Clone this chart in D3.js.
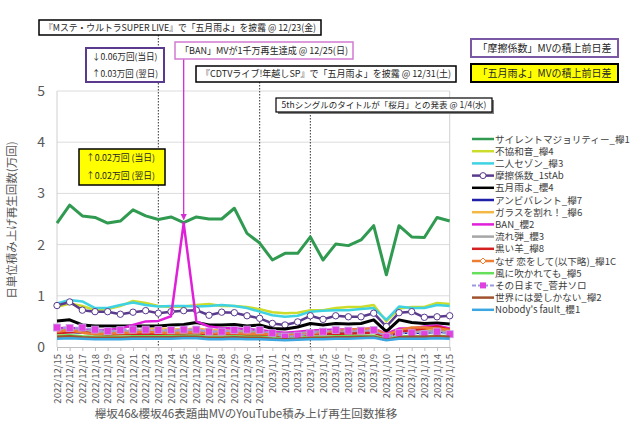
<!DOCTYPE html>
<html>
<head>
<meta charset="utf-8">
<script src="https://cdn.jsdelivr.net/npm/d3@7"></script>
<style>
  body { margin: 0; background: #fff; }
  text { font-family: "Noto Sans CJK JP", "Noto Sans", sans-serif; }
</style>
</head>
<body>
<script>
// 日付 (カテゴリ)
var dates = ["2022/12/15","2022/12/16","2022/12/17","2022/12/18","2022/12/19","2022/12/20","2022/12/21","2022/12/22",
  "2022/12/23","2022/12/24","2022/12/25","2022/12/26","2022/12/27","2022/12/28","2022/12/29","2022/12/30",
  "2022/12/31","2023/1/1","2023/1/2","2023/1/3","2023/1/4","2023/1/5","2023/1/6","2023/1/7",
  "2023/1/8","2023/1/9","2023/1/10","2023/1/11","2023/1/12","2023/1/13","2023/1/14","2023/1/15"];

var yTicks = [0, 1, 2, 3, 4, 5];

// 各曲の日単位積み上げ再生回数 (万回)
var silentMajority = [2.42,2.77,2.56,2.53,2.42,2.46,2.68,2.56,2.49,2.54,2.43,2.54,2.50,2.50,2.71,2.22,2.03,1.70,1.83,1.83,2.15,1.70,2.01,1.98,2.09,2.37,1.41,2.37,2.15,2.14,2.53,2.46];
var fukyowaon = [0.78,0.85,0.80,0.72,0.74,0.80,0.90,0.86,0.80,0.78,0.79,0.82,0.84,0.80,0.80,0.78,0.74,0.68,0.66,0.67,0.72,0.72,0.76,0.78,0.78,0.82,0.50,0.75,0.78,0.78,0.86,0.84];
var futariSaison = [0.85,0.92,0.89,0.76,0.76,0.82,0.87,0.82,0.79,0.80,0.80,0.79,0.80,0.82,0.80,0.76,0.69,0.62,0.59,0.61,0.69,0.71,0.72,0.72,0.74,0.76,0.53,0.79,0.76,0.76,0.82,0.80];
var masatsuKeisu = [0.81,0.88,0.72,0.69,0.69,0.64,0.68,0.71,0.66,0.69,0.71,0.72,0.62,0.68,0.67,0.61,0.56,0.46,0.43,0.49,0.61,0.54,0.61,0.59,0.59,0.66,0.40,0.67,0.69,0.58,0.59,0.61];
var samidareyo = [0.51,0.53,0.43,0.41,0.41,0.41,0.41,0.41,0.41,0.43,0.44,0.48,0.43,0.43,0.44,0.41,0.43,0.36,0.35,0.39,0.46,0.43,0.46,0.45,0.46,0.53,0.30,0.53,0.48,0.46,0.47,0.45];
var ambivalent = [0.29,0.30,0.28,0.27,0.27,0.27,0.28,0.28,0.28,0.28,0.29,0.29,0.27,0.27,0.28,0.27,0.27,0.24,0.23,0.24,0.27,0.27,0.28,0.28,0.28,0.29,0.20,0.28,0.28,0.28,0.30,0.29];
var garasu = [0.33,0.36,0.30,0.28,0.28,0.30,0.32,0.34,0.36,0.35,0.34,0.36,0.33,0.32,0.32,0.31,0.30,0.27,0.26,0.27,0.30,0.30,0.32,0.32,0.33,0.33,0.23,0.32,0.33,0.33,0.35,0.34];
var ban = [0.36,0.38,0.34,0.33,0.33,0.36,0.43,0.50,0.51,0.60,2.42,0.50,0.40,0.37,0.36,0.35,0.33,0.30,0.28,0.30,0.32,0.33,0.34,0.34,0.35,0.36,0.26,0.36,0.36,0.40,0.42,0.36];
var nagaredama = [0.32,0.33,0.31,0.30,0.29,0.30,0.31,0.30,0.30,0.31,0.31,0.32,0.30,0.30,0.30,0.29,0.29,0.26,0.25,0.26,0.29,0.30,0.31,0.31,0.31,0.32,0.22,0.31,0.31,0.30,0.32,0.31];
var kuroiHitsuji = [0.27,0.29,0.30,0.25,0.24,0.25,0.26,0.26,0.25,0.26,0.26,0.27,0.25,0.25,0.25,0.24,0.24,0.22,0.21,0.22,0.25,0.25,0.26,0.26,0.27,0.28,0.19,0.30,0.33,0.36,0.40,0.34];
var nazeKoi = [0.30,0.33,0.28,0.25,0.26,0.27,0.28,0.30,0.28,0.27,0.28,0.29,0.27,0.27,0.27,0.26,0.26,0.24,0.23,0.24,0.26,0.28,0.32,0.34,0.35,0.36,0.24,0.33,0.38,0.38,0.36,0.33];
var kazeNi = [0.22,0.23,0.21,0.20,0.20,0.20,0.21,0.21,0.21,0.21,0.22,0.22,0.20,0.20,0.21,0.20,0.20,0.18,0.17,0.18,0.20,0.20,0.21,0.21,0.22,0.22,0.16,0.21,0.21,0.21,0.22,0.21];
var sonoHiMade = [0.38,0.37,0.38,0.34,0.31,0.33,0.34,0.34,0.33,0.33,0.34,0.34,0.30,0.30,0.33,0.34,0.33,0.27,0.20,0.22,0.27,0.30,0.33,0.32,0.32,0.33,0.20,0.27,0.27,0.25,0.30,0.25];
var sekaiNiwa = [0.20,0.21,0.19,0.18,0.18,0.18,0.19,0.19,0.19,0.19,0.20,0.20,0.18,0.18,0.19,0.18,0.18,0.16,0.15,0.16,0.18,0.18,0.19,0.19,0.20,0.20,0.14,0.19,0.20,0.20,0.21,0.20];
var nobodysFault = [0.16,0.17,0.16,0.15,0.15,0.15,0.16,0.16,0.16,0.16,0.17,0.17,0.15,0.15,0.16,0.15,0.15,0.14,0.13,0.14,0.15,0.15,0.16,0.16,0.17,0.18,0.13,0.16,0.16,0.16,0.17,0.16];

// 系列の一覧 (凡例の順)
var series = [
  {name: "サイレントマジョリティー_欅1", values: silentMajority, color: "#2f9a50", w: 3},
  {name: "不協和音_欅4", values: fukyowaon, color: "#ccdc2a", w: 2.5},
  {name: "二人セゾン_欅3", values: futariSaison, color: "#3fd2e2", w: 2.5},
  {name: "摩擦係数_1stAb", values: masatsuKeisu, color: "#5a3a8c", w: 2.5, marker: "circle"},
  {name: "五月雨よ_櫻4", values: samidareyo, color: "#000000", w: 3},
  {name: "アンビバレント_欅7", values: ambivalent, color: "#1f1fa8", w: 2.5},
  {name: "ガラスを割れ！_欅6", values: garasu, color: "#f2b843", w: 2.5},
  {name: "BAN_櫻2", values: ban, color: "#e020d8", w: 2.5},
  {name: "流れ弾_櫻3", values: nagaredama, color: "#a6a6a6", w: 3},
  {name: "黒い羊_欅8", values: kuroiHitsuji, color: "#d42020", w: 2.5},
  {name: "なぜ 恋をして(以下略)_欅1C", values: nazeKoi, color: "#ec7d31", w: 2.5, marker: "diamond"},
  {name: "風に吹かれても_欅5", values: kazeNi, color: "#66e05a", w: 2.5},
  {name: "その日まで_菅井ソロ", values: sonoHiMade, color: "#9a9ae0", w: 2, marker: "square", dash: "4,2"},
  {name: "世界には愛しかない_欅2", values: sekaiNiwa, color: "#a0522d", w: 2.5},
  {name: "Nobody's fault_櫻1", values: nobodysFault, color: "#3ca6e0", w: 2.5}
];

var W = 640, H = 435;
var plot = {left: 57, right: 449.7, top: 91, bottom: 347};

var svg = d3.select("body").append("svg")
  .attr("width", W).attr("height", H);

var x = d3.scalePoint().domain(dates).range([plot.left, plot.right]).padding(0);
var y = d3.scaleLinear().domain([0, 5]).range([plot.bottom, plot.top]);

// グリッド線
svg.append("g").selectAll("line")
  .data(yTicks.filter(function(d) { return d > 0; }))
  .enter().append("line")
  .attr("x1", plot.left).attr("x2", plot.right)
  .attr("y1", function(d) { return y(d); }).attr("y2", function(d) { return y(d); })
  .attr("stroke", "#dcdcdc").attr("stroke-width", 1);

// 枠
svg.append("line").attr("x1", plot.left).attr("x2", plot.left).attr("y1", plot.top).attr("y2", plot.bottom)
  .attr("stroke", "#d0d0d0");
svg.append("line").attr("x1", plot.right).attr("x2", plot.right).attr("y1", plot.top).attr("y2", plot.bottom)
  .attr("stroke", "#d0d0d0");

// Y軸ラベル
svg.append("g").selectAll("text")
  .data(yTicks)
  .enter().append("text")
  .attr("x", 45).attr("y", function(d) { return y(d) + 5; })
  .attr("text-anchor", "end")
  .attr("font-size", "14px").attr("fill", "#595959")
  .text(function(d) { return d; });

// X軸
var xAxis = svg.append("g")
  .attr("transform", "translate(0," + plot.bottom + ")")
  .call(d3.axisBottom(x).tickSize(4).tickSizeOuter(0).tickFormat(""));
xAxis.select(".domain").attr("stroke", "#bfbfbf");
xAxis.selectAll(".tick line").attr("stroke", "#bfbfbf");

svg.append("g").selectAll("text")
  .data(dates)
  .enter().append("text")
  .attr("transform", function(d) { return "translate(" + (x(d) + 3.5) + "," + (plot.bottom + 7) + ") rotate(-90)"; })
  .attr("text-anchor", "end")
  .attr("font-size", "9.5px").attr("fill", "#595959")
  .text(function(d) { return d; });

// 軸タイトル
svg.append("text")
  .attr("transform", "translate(16," + 220 + ") rotate(-90)")
  .attr("text-anchor", "middle")
  .attr("font-size", "11.5px").attr("fill", "#595959")
  .text("日単位積み上げ再生回数(万回)");

svg.append("text")
  .attr("x", 246).attr("y", 418)
  .attr("text-anchor", "middle")
  .attr("font-size", "11.5px").attr("fill", "#595959")
  .text("欅坂46&櫻坂46表題曲MVのYouTube積み上げ再生回数推移");

// 縦の点線 (イベント)
var events = [
  {date: "2022/12/23", top: 35},
  {date: "2022/12/31", top: 82},
  {date: "2023/1/4", top: 112}
];
svg.append("g").selectAll("line")
  .data(events)
  .enter().append("line")
  .attr("x1", function(d) { return x(d.date); }).attr("x2", function(d) { return x(d.date); })
  .attr("y1", function(d) { return d.top; }).attr("y2", plot.bottom)
  .attr("stroke", "#333").attr("stroke-width", 1).attr("stroke-dasharray", "1.5,1.5");

// 折れ線
var line = d3.line()
  .x(function(d, i) { return x(dates[i]); })
  .y(function(d) { return y(d); });

series.forEach(function(s) {
  svg.append("path")
    .datum(s.values)
    .attr("d", line)
    .attr("fill", "none")
    .attr("stroke", s.color)
    .attr("stroke-width", s.w)
    .attr("stroke-linejoin", "round")
    .attr("stroke-dasharray", s.dash || null);

  if (s.marker === "circle") {
    svg.append("g").selectAll("circle")
      .data(s.values).enter().append("circle")
      .attr("cx", function(d, i) { return x(dates[i]); })
      .attr("cy", function(d) { return y(d); })
      .attr("r", 3.2)
      .attr("fill", "#fff").attr("stroke", s.color).attr("stroke-width", 1);
  } else if (s.marker === "square") {
    svg.append("g").selectAll("rect")
      .data(s.values).enter().append("rect")
      .attr("x", function(d, i) { return x(dates[i]) - 3.5; })
      .attr("y", function(d) { return y(d) - 3.5; })
      .attr("width", 7).attr("height", 7)
      .attr("fill", "#e040e0").attr("stroke", "#c8a0e8").attr("stroke-width", 0.8);
  }
});

// 「BAN」の矢印
svg.append("defs").append("marker")
  .attr("id", "arrowM").attr("viewBox", "0 0 10 10")
  .attr("refX", 9).attr("refY", 5)
  .attr("markerWidth", 5).attr("markerHeight", 5)
  .attr("orient", "auto")
  .append("path").attr("d", "M0,0 L10,5 L0,10 z").attr("fill", "#d030d0");

svg.append("line")
  .attr("x1", x("2022/12/25")).attr("x2", x("2022/12/25"))
  .attr("y1", 59).attr("y2", y(silentMajority[10]) - 3)
  .attr("stroke", "#d030d0").attr("stroke-width", 1.3)
  .attr("marker-end", "url(#arrowM)");

// 注釈ボックス
var boxes = [
  {x: 39, y: 20, w: 282, h: 15, stroke: "#000", sw: 1.5, fill: "#fff", fs: 9.5,
    lines: ["『Mステ・ウルトラSUPER LIVE』で「五月雨よ」を披露 @ 12/23(金)"]},
  {x: 86, y: 48, w: 78, h: 34, stroke: "#5a3a8c", sw: 2, fill: "#fff", fs: 8.6, pad: 6,
    lines: ["↓0.06万回(当日)", "↑0.03万回 (翌日)"]},
  {x: 175, y: 42, w: 178, h: 17, stroke: "#d27ad2", sw: 1.5, fill: "#fff", fs: 9.5,
    lines: ["「BAN」MVが1千万再生達成 @ 12/25(日)"]},
  {x: 196, y: 66, w: 260, h: 16, stroke: "#000", sw: 1.5, fill: "#fff", fs: 9.5,
    lines: ["『CDTVライブ!年越しSP』で「五月雨よ」を披露 @ 12/31(土)"]},
  {x: 276, y: 98, w: 216, h: 14, stroke: "#000", sw: 1.2, fill: "#fff", fs: 8.5, shadow: true,
    lines: ["5thシングルのタイトルが「桜月」との発表 @ 1/4(水)"]},
  {x: 471, y: 39, w: 147, h: 18, stroke: "#7a58a6", sw: 2, fill: "#fff", fs: 10,
    lines: ["「摩擦係数」MVの積上前日差"]},
  {x: 471, y: 64, w: 147, h: 18, stroke: "#000", sw: 2, fill: "#ffff00", fs: 10,
    lines: ["「五月雨よ」MVの積上前日差"]},
  {x: 79, y: 149, w: 86, h: 36, stroke: "#000", sw: 1.5, fill: "#ffff00", fs: 8.8, pad: 7,
    lines: ["↑0.02万回 (当日)", "↑0.02万回 (翌日)"]}
];

boxes.forEach(function(b) {
  var g = svg.append("g");
  if (b.shadow) {
    g.append("rect").attr("x", b.x + 2).attr("y", b.y + 2).attr("width", b.w).attr("height", b.h)
      .attr("fill", "#808080");
  }
  g.append("rect").attr("x", b.x).attr("y", b.y).attr("width", b.w).attr("height", b.h)
    .attr("fill", b.fill).attr("stroke", b.stroke).attr("stroke-width", b.sw);
  var n = b.lines.length;
  b.lines.forEach(function(t, i) {
    var txt = g.append("text")
      .attr("font-size", b.fs + "px").attr("fill", "#262626")
      .text(t);
    if (n === 1) {
      txt.attr("x", b.x + b.w / 2).attr("y", b.y + b.h / 2 + b.fs * 0.36).attr("text-anchor", "middle");
      var avail = b.w - 10;
      if (txt.node().getComputedTextLength() > avail) {
        txt.attr("textLength", avail).attr("lengthAdjust", "spacingAndGlyphs");
      }
    } else {
      txt.attr("x", b.x + b.pad).attr("y", b.y + (i + 0.5) * b.h / n + b.fs * 0.36);
      var avail2 = b.w - 2 * b.pad;
      if (txt.node().getComputedTextLength() > avail2) {
        txt.attr("textLength", avail2).attr("lengthAdjust", "spacingAndGlyphs");
      }
    }
  });
});

// 凡例
var legendY0 = 139, legendStep = 12.2, legendX = 472;
var legend = svg.append("g").selectAll("g")
  .data(series)
  .enter().append("g")
  .attr("transform", function(d, i) { return "translate(" + legendX + "," + (legendY0 + i * legendStep) + ")"; });

legend.append("line")
  .attr("x1", 0).attr("x2", 22).attr("y1", 0).attr("y2", 0)
  .attr("stroke", function(d) { return d.color; })
  .attr("stroke-width", function(d) { return Math.min(d.w, 2.5); })
  .attr("stroke-dasharray", function(d) { return d.dash || null; });

legend.filter(function(d) { return d.marker === "circle"; })
  .append("circle").attr("cx", 11).attr("cy", 0).attr("r", 3)
  .attr("fill", "#fff").attr("stroke", function(d) { return d.color; });
legend.filter(function(d) { return d.marker === "square"; })
  .append("rect").attr("x", 8).attr("y", -3).attr("width", 6).attr("height", 6)
  .attr("fill", "#e040e0");
legend.filter(function(d) { return d.marker === "diamond"; })
  .append("path").attr("d", "M11,-3 L14,0 L11,3 L8,0 Z")
  .attr("fill", "#fff").attr("stroke", function(d) { return d.color; });

legend.append("text")
  .attr("x", 23).attr("y", 3.5)
  .attr("font-size", "9.6px").attr("fill", "#404040")
  .text(function(d) { return d.name; });
</script>
</body>
</html>
